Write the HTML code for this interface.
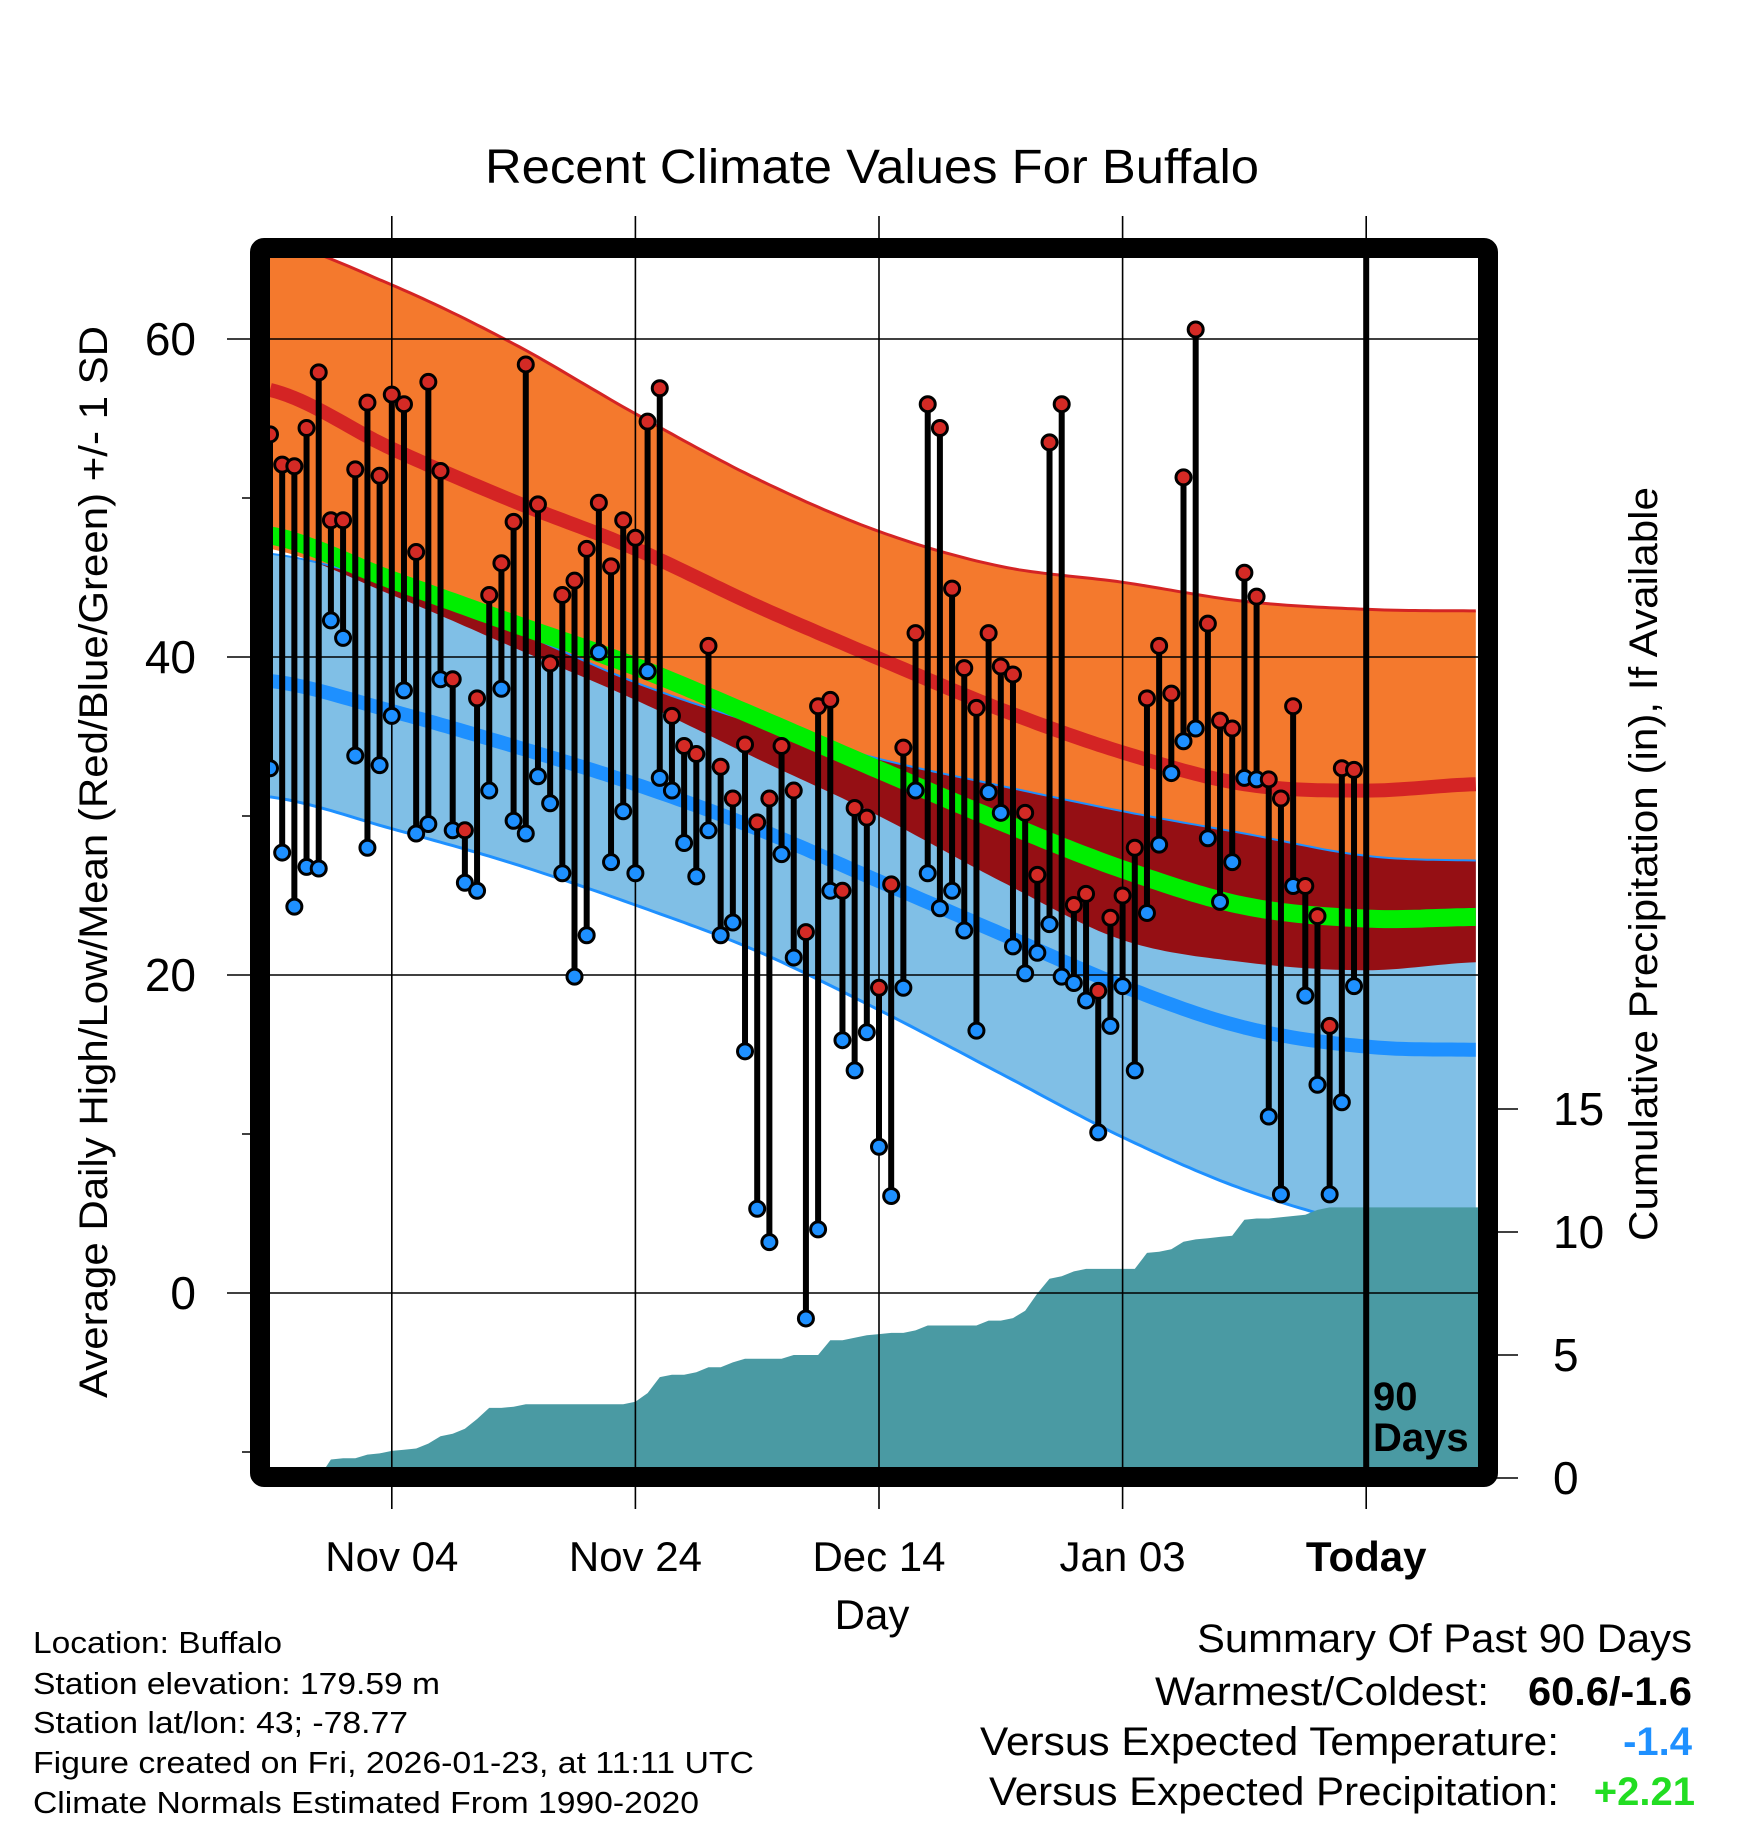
<!DOCTYPE html>
<html><head><meta charset="utf-8"><style>
html,body{margin:0;padding:0;background:#fff;}
svg{display:block;font-family:"Liberation Sans",sans-serif;}
</style></head><body>
<svg id="chart" width="1748" height="1828" viewBox="0 0 1748 1828" xmlns="http://www.w3.org/2000/svg">
<defs><clipPath id="plotclip"><rect x="270" y="258" width="1208" height="1209"/></clipPath></defs>
<rect x="0" y="0" width="1748" height="1828" fill="#fff"/>
<g id="plot" clip-path="url(#plotclip)"></g>
<g id="grid"></g>
<g id="marks" clip-path="url(#plotclip)"></g>
<rect x="260" y="248" width="1228" height="1229" rx="4" fill="none" stroke="#000" stroke-width="20"/>
<g id="labels"></g>
<text x="872" y="183" text-anchor="middle" font-size="48" textLength="774" lengthAdjust="spacingAndGlyphs">Recent Climate Values For Buffalo</text>
<text x="872" y="1629" text-anchor="middle" font-size="42">Day</text>
<text transform="translate(107,862) rotate(-90)" text-anchor="middle" font-size="40" textLength="1072" lengthAdjust="spacingAndGlyphs">Average Daily High/Low/Mean (Red/Blue/Green) +/- 1 SD</text>
<text transform="translate(1657,864) rotate(-90)" text-anchor="middle" font-size="40" textLength="754" lengthAdjust="spacingAndGlyphs">Cumulative Precipitation (in), If Available</text>
<text x="1373" y="1410" font-size="40" font-weight="bold">90</text>
<text x="1373" y="1451" font-size="40" font-weight="bold">Days</text>
<g font-size="31">
<text x="33" y="1653" textLength="249" lengthAdjust="spacingAndGlyphs">Location: Buffalo</text>
<text x="33" y="1694" textLength="407" lengthAdjust="spacingAndGlyphs">Station elevation: 179.59 m</text>
<text x="33" y="1733" textLength="375" lengthAdjust="spacingAndGlyphs">Station lat/lon: 43; -78.77</text>
<text x="33" y="1773" textLength="721" lengthAdjust="spacingAndGlyphs">Figure created on Fri, 2026-01-23, at 11:11 UTC</text>
<text x="33" y="1813" textLength="666" lengthAdjust="spacingAndGlyphs">Climate Normals Estimated From 1990-2020</text>
</g>
<g font-size="40">
<text x="1692" y="1652" text-anchor="end" textLength="495" lengthAdjust="spacingAndGlyphs">Summary Of Past 90 Days</text>
<text x="1489" y="1705" text-anchor="end" textLength="334" lengthAdjust="spacingAndGlyphs">Warmest/Coldest:</text>
<text x="1692" y="1705" text-anchor="end" font-weight="bold" textLength="164" lengthAdjust="spacingAndGlyphs">60.6/-1.6</text>
<text x="1559" y="1755" text-anchor="end" textLength="579" lengthAdjust="spacingAndGlyphs">Versus Expected Temperature:</text>
<text x="1692" y="1755" text-anchor="end" font-weight="bold" fill="#1e90ff">-1.4</text>
<text x="1559" y="1805" text-anchor="end" textLength="570" lengthAdjust="spacingAndGlyphs">Versus Expected Precipitation:</text>
<text x="1695" y="1805" text-anchor="end" font-weight="bold" fill="#22dd22">+2.21</text>
</g>
</svg>
<script>
// ---- data ----
const normalDays = [0,10,20,30,40,50,60,70,80,90,99];
const highPlusSD = [66.2,63.4,59.7,55.3,51.2,47.9,45.7,44.7,43.5,43.0,42.9];
const highMean   = [56.8,53.1,49.8,46.8,43.2,39.9,36.7,34.0,32.0,31.6,32.0];
const highMinusSD= [46.8,43.9,40.6,37.3,33.6,30.0,25.9,22.2,20.8,20.3,20.8];
const lowPlusSD  = [46.5,44.6,41.7,38.4,35.8,33.6,31.9,30.3,28.9,27.5,27.2];
const lowMean    = [38.5,36.6,34.4,32.0,29.2,25.9,22.6,19.3,16.7,15.5,15.3];
const lowMinusSD = [31.2,29.2,27.0,24.4,21.5,17.8,13.8,9.8,6.5,4.3,3.5];
const dailyHigh = [54.0,52.1,52.0,54.4,57.9,48.6,48.6,51.8,56.0,51.4,56.5,55.9,46.6,57.3,51.7,38.6,29.1,37.4,43.9,45.9,48.5,58.4,49.6,39.6,43.9,44.8,46.8,49.7,45.7,48.6,47.5,54.8,56.9,36.3,34.4,33.9,40.7,33.1,31.1,34.5,29.6,31.1,34.4,31.6,22.7,36.9,37.3,25.3,30.5,29.9,19.2,25.7,34.3,41.5,55.9,54.4,44.3,39.3,36.8,41.5,39.4,38.9,30.2,26.3,53.5,55.9,24.4,25.1,19.0,23.6,25.0,28.0,37.4,40.7,37.7,51.3,60.6,42.1,36.0,35.5,45.3,43.8,32.3,31.1,36.9,25.6,23.7,16.8,33.0,32.9];
const dailyLow = [33.0,27.7,24.3,26.8,26.7,42.3,41.2,33.8,28.0,33.2,36.3,37.9,28.9,29.5,38.6,29.1,25.8,25.3,31.6,38.0,29.7,28.9,32.5,30.8,26.4,19.9,22.5,40.3,27.1,30.3,26.4,39.1,32.4,31.6,28.3,26.2,29.1,22.5,23.3,15.2,5.3,3.2,27.6,21.1,-1.6,4.0,25.3,15.9,14.0,16.4,9.2,6.1,19.2,31.6,26.4,24.2,25.3,22.8,16.5,31.5,30.2,21.8,20.1,21.4,23.2,19.9,19.5,18.4,10.1,16.8,19.3,14.0,23.9,28.2,32.7,34.7,35.5,28.6,24.6,27.1,32.4,32.3,11.1,6.2,25.6,18.7,13.1,6.2,12.0,19.3];
const dailyPrecip = [0,0,0,0,0,0.75,0.05,0,0.15,0.05,0.1,0.05,0.05,0.2,0.3,0.1,0.2,0.4,0.45,0,0.05,0.1,0,0,0,0,0,0,0,0,0.1,0.35,0.65,0.1,0,0.1,0.2,0,0.2,0.15,0,0,0,0.15,0,0,0.6,0,0.1,0.1,0.05,0.05,0,0.1,0.2,0,0,0,0,0.2,0,0.1,0.3,0.7,0.6,0.1,0.2,0.1,0,0,0,0,0.65,0.05,0.1,0.3,0.1,0.05,0.05,0.05,0.65,0.05,0,0.05,0.05,0.05,0.2,0.1,0,0,0];
const dateLabels = ["Nov 04","Nov 24","Dec 14","Jan 03","Today"];
const dateDays = [10,30,50,70,90];
const tempTicks = [60,40,20,0];
const tempMinorTicks = [50,30,10,-10];
const precipTicks = [0,5,10,15];

// ---- axes ----
const X = d => 270 + d*12.18;
const Y = t => 1293 - t*15.9;
const PY = p => 1478 - p*24.6;
const NS = "http://www.w3.org/2000/svg";
function mk(tag, attrs, parent){const e=document.createElementNS(NS,tag);for(const k in attrs)e.setAttribute(k,attrs[k]);parent.appendChild(e);return e;}
function curve(vals){
  const out=[];
  for(let i=0;i<normalDays.length-1;i++){
    const p0=vals[Math.max(i-1,0)],p1=vals[i],p2=vals[i+1],p3=vals[Math.min(i+2,vals.length-1)];
    const d0=normalDays[i],d1=normalDays[i+1];
    const n=Math.round((d1-d0)*2);
    for(let j=0;j<n;j++){const t=j/n;
      const v=0.5*((2*p1)+(-p0+p2)*t+(2*p0-5*p1+4*p2-p3)*t*t+(-p0+3*p1-3*p2+p3)*t*t*t);
      out.push([d0+(d1-d0)*t,v]);}
  }
  out.push([normalDays[normalDays.length-1],vals[vals.length-1]]);
  return out;
}
const plot=document.getElementById('plot');
const cHP=curve(highPlusSD),cHM=curve(highMean),cHm=curve(highMinusSD),cLP=curve(lowPlusSD),cLM=curve(lowMean),cLm=curve(lowMinusSD);
const mean=cHM.map((p,i)=>[p[0],(p[1]+cLM[i][1])/2]);
const pts=a=>a.map(p=>X(p[0]).toFixed(1)+','+Y(p[1]).toFixed(1));
function band(top,bot,fill,name){
  const e=mk('polygon',{points:pts(top).concat(pts(bot.slice().reverse())).join(' '),fill:fill},plot);
  
  
}
function line(a,color,w,name){
  const e=mk('polyline',{points:pts(a).join(' '),fill:'none',stroke:color,'stroke-width':w,'stroke-linejoin':'round'},plot);
  
  
}
band(cHP,cHm,'#f4792d','high-sd-band');
band(cLP,cLm,'#80bfe6','low-sd-band');
band(cHm.map((p,i)=>[p[0],Math.max(p[1],cLP[i][1])]),cHm,'#950f14','overlap-band');
line(cHP,'#d42424',3,'high-plus-sd-line');
line(cLP,'#1e90ff',2,'low-plus-sd-line');
line(cLm,'#1e90ff',3,'low-minus-sd-line');
line(cHM,'#d42424',14,'mean-high-line');
line(cLM,'#1e90ff',14,'mean-low-line');
line(mean,'#00ee00',18,'mean-line');
let cum=0;const pp=[];
dailyPrecip.forEach((v,d)=>{cum+=v;pp.push(X(d).toFixed(1)+','+PY(cum).toFixed(1));});
pp.push('1480,'+PY(cum).toFixed(1));pp.push('1480,1480');pp.push(X(0)+',1480');
const parea=mk('polygon',{points:pp.join(' '),fill:'#4a9aa3'},plot);



const grid=document.getElementById('grid');
dateDays.forEach((d,i)=>{
  const g=mk('line',{x1:X(d),x2:X(d),y1:216,y2:1509,stroke:'#000','stroke-width':1.6},grid);
  
  
});
tempTicks.forEach(t=>{
  const g=mk('line',{x1:227,x2:1478,y1:Y(t),y2:Y(t),stroke:'#000','stroke-width':1.6},grid);
  
  
});
tempMinorTicks.forEach(t=>{
  const g=mk('line',{x1:242,x2:262,y1:Y(t),y2:Y(t),stroke:'#000','stroke-width':1.6},grid);
  
  
});
precipTicks.forEach(p=>{
  const g=mk('line',{x1:1488,x2:1518,y1:PY(p),y2:PY(p),stroke:'#000','stroke-width':1.6},grid);
  
  
});

const marks=document.getElementById('marks');
const today=mk('line',{x1:X(90),x2:X(90),y1:258,y2:1470,stroke:'#000','stroke-width':6},marks);


dailyHigh.forEach((h,d)=>{
  const l=dailyLow[d];
  const s=mk('line',{x1:X(d),x2:X(d),y1:Y(h),y2:Y(l),stroke:'#000','stroke-width':6},marks);
  
  
});
dailyHigh.forEach((h,d)=>{
  const a=mk('circle',{cx:X(d),cy:Y(h),r:7.5,fill:'#d42a25',stroke:'#000','stroke-width':3},marks);
  
  
  const b=mk('circle',{cx:X(d),cy:Y(dailyLow[d]),r:7.5,fill:'#1e90ff',stroke:'#000','stroke-width':3},marks);
  
  
});

const labels=document.getElementById('labels');
tempTicks.forEach(t=>{
  const e=mk('text',{x:196,y:Y(t)+16,'text-anchor':'end','font-size':46},labels);
  e.textContent=t;
  
  
});
precipTicks.forEach(p=>{
  const e=mk('text',{x:1553,y:PY(p)+16,'font-size':46},labels);
  e.textContent=p;
  
  
});
dateLabels.forEach((s,i)=>{
  const e=mk('text',{x:X(dateDays[i]),y:1571,'text-anchor':'middle','font-size':42},labels);
  if(s==='Today')e.setAttribute('font-weight','bold');
  e.textContent=s;
  
  
});
</script>
</body></html>
